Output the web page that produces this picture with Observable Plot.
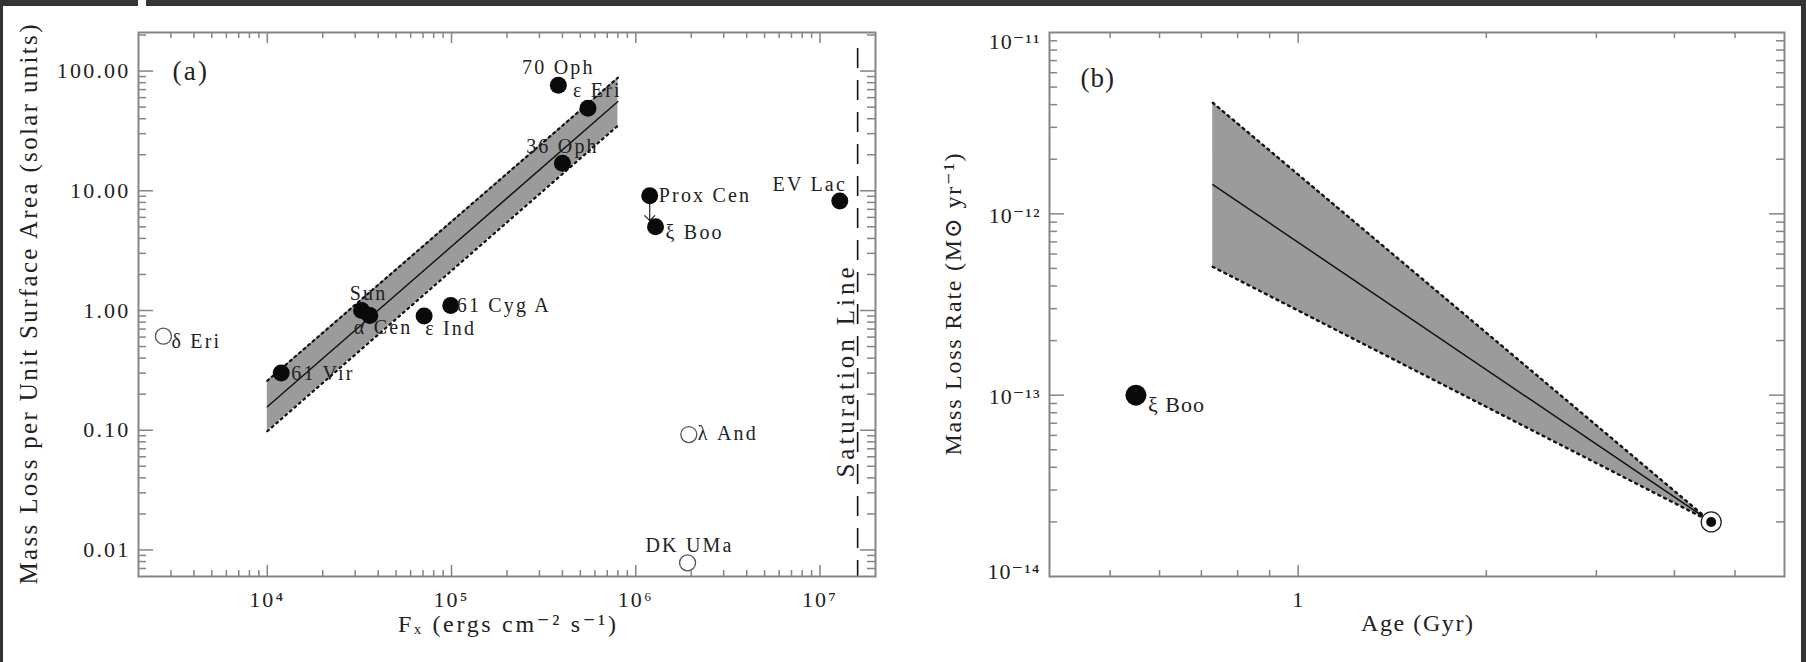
<!DOCTYPE html>
<html><head><meta charset="utf-8">
<script src="https://cdn.jsdelivr.net/npm/d3@7"></script>
<script src="https://cdn.jsdelivr.net/npm/@observablehq/plot@0.6"></script>
<style>
html,body{margin:0;padding:0;background:#fff;}
#page{position:relative;width:1806px;height:662px;overflow:hidden;background:#fff;}
.bar{position:absolute;background:#343434;}
#pa,#pb{position:absolute;top:0;}
#pa{left:0;} #pb{left:900px;}
</style></head><body>
<div id="page">
  <div id="pa"></div><div id="pb"></div>
  <div class="bar" style="left:0;top:0;width:138px;height:6px"></div>
  <div class="bar" style="left:146px;top:0;width:1660px;height:6px"></div>
  <div class="bar" style="left:0;top:0;width:3px;height:662px"></div>
  <div class="bar" style="right:0;top:0;width:5px;height:662px"></div>
</div>
<script>
// ---------- Panel (a) data ----------
const starNames  = ["70 Oph","ε Eri","36 Oph","Prox Cen","ξ Boo","EV Lac","61 Cyg A","ε Ind","Sun","α Cen","61 Vir","δ Eri","λ And","DK UMa"];
const starFx     = [3.8e5, 5.5e5, 4.0e5, 1.19e6, 1.28e6, 1.28e7, 9.9e4, 7.1e4, 3.25e4, 3.6e4, 1.19e4, 2.73e3, 1.94e6, 1.91e6];
const starMdot   = [76, 49, 17, 9.1, 5.0, 8.2, 1.1, 0.90, 1.0, 0.91, 0.30, 0.61, 0.092, 0.0078];
const starFilled = [true, true, true, true, true, true, true, true, true, true, true, false, false, false];
const upperLimitStars = ["Prox Cen"];
const fitFx   = [1e4, 8e5];
const fitMid  = [0.157, 55.6];
const fitLow  = [0.098, 35];
const fitHigh = [0.259, 88];
const saturationFx = 1.6e7;
const aXDomain = [2000, 2e7];
const aYDomain = [0.006, 210];
const aXLabelValues = [1e4, 1e5, 1e6, 1e7];
const aXLabels = ["10⁴", "10⁵", "10⁶", "10⁷"];
const aYLabelValues = [0.01, 0.1, 1, 10, 100];
const aYLabels = ["0.01", "0.10", "1.00", "10.00", "100.00"];
const aTitleY = "Mass Loss per Unit Surface Area (solar units)";
const aTitleX = "Fₓ (ergs cm⁻² s⁻¹)";
const satLabel = "Saturation Line";

// ---------- Panel (b) data ----------
const modelAge  = [0.73, 4.58];
const modelMid  = [1.45e-12, 2.0e-14];
const modelHigh = [4.1e-12, 2.0e-14];
const modelLow  = [5.1e-13, 2.0e-14];
const sunAge = [4.58], sunRate = [2.0e-14];
const xiBooAge = [0.55], xiBooRate = [1.0e-13];
const bXDomain = [0.4, 6];
const bYDomain = [1e-14, 1e-11];
const bXLabelValues = [1];
const bXLabels = ["1"];
const bYLabelValues = [1e-14, 1e-13, 1e-12, 1e-11];
const bYLabels = ["10⁻¹⁴", "10⁻¹³", "10⁻¹²", "10⁻¹¹"];
const bTitleY = "Mass Loss Rate (M⊙ yr⁻¹)";
const bTitleX = "Age (Gyr)";

// ---------- helpers ----------
const FONT = "'Liberation Serif','DejaVu Serif',serif";
const INK = "#222";
const AXC = "#858585";
const isPow10 = v => Math.abs(Math.log10(v) - Math.round(Math.log10(v))) < 1e-9;
function innerTicks(dom) {
  return d3.scaleLog().domain(dom).ticks().filter(v => v > dom[0] * 1.0001 && v < dom[1] * 0.9999);
}
function frameTicks(xDom, yDom, pw, ph) {
  const xt = innerTicks(xDom), yt = innerTicks(yDom);
  const xMaj = xt.filter(isPow10), xMin = xt.filter(v => !isPow10(v));
  const yMaj = yt.filter(isPow10), yMin = yt.filter(v => !isPow10(v));
  const s = {stroke: AXC, strokeWidth: 1.5};
  return [
    Plot.tickX(xMaj, {x: d => d, insetTop: ph - 11, ...s}),
    Plot.tickX(xMaj, {x: d => d, insetBottom: ph - 11, ...s}),
    Plot.tickX(xMin, {x: d => d, insetTop: ph - 6, ...s}),
    Plot.tickX(xMin, {x: d => d, insetBottom: ph - 6, ...s}),
    Plot.tickY(yMaj, {y: d => d, insetRight: pw - 15, ...s}),
    Plot.tickY(yMaj, {y: d => d, insetLeft: pw - 15, ...s}),
    Plot.tickY(yMin, {y: d => d, insetRight: pw - 8, ...s}),
    Plot.tickY(yMin, {y: d => d, insetLeft: pw - 8, ...s})
  ];
}
// stretch a centred text (found by its content) to a given length, keeping it centred
function fitText(svg, str, len) {
  svg.querySelectorAll("text").forEach(t => {
    if (t.textContent !== str) return;
    const x0 = t.hasAttribute("x") ? +t.getAttribute("x") : 0;
    t.setAttribute("text-anchor", "start");
    t.setAttribute("x", x0 - len / 2);
    t.setAttribute("textLength", len);
    t.setAttribute("lengthAdjust", "spacing");
    t.style.letterSpacing = "0px";
  });
}

// ---------- Panel (a) ----------
const stars = starNames.map((name, i) => ({name, fx: starFx[i], mdot: starMdot[i], filled: starFilled[i]}));
const fitRows = fitFx.map((fx, i) => ({fx, mid: fitMid[i], low: fitLow[i], high: fitHigh[i]}));
const labelOffsets = {
  "70 Oph":   [0, -18, "middle"],
  "ε Eri":    [-15, -18, "start"],
  "36 Oph":   [0, -17, "middle"],
  "Prox Cen": [9, 0, "start"],
  "ξ Boo":    [10, 6, "start"],
  "EV Lac":   [-30, -17, "middle"],
  "61 Cyg A": [6, 0, "start"],
  "ε Ind":    [1, 13, "start"],
  "Sun":      [7, -17, "middle"],
  "α Cen":    [-16, 12, "start"],
  "61 Vir":   [10, 0, "start"],
  "δ Eri":    [8, 5, "start"],
  "λ And":    [9, -1, "start"],
  "DK UMa":   [2, -17, "middle"]
};
const aW = 900, H = 662, aML = 138, aMR = 25, aMT = 32, aMB = 86;
const aPW = aW - aML - aMR, aPH = H - aMT - aMB;
const aXMap = new Map(aXLabelValues.map((v, i) => [v, aXLabels[i]]));
const aYMap = new Map(aYLabelValues.map((v, i) => [v, aYLabels[i]]));

const plotA = Plot.plot({
  width: aW, height: H,
  marginLeft: aML, marginRight: aMR, marginTop: aMT, marginBottom: aMB,
  x: {type: "log", domain: aXDomain, axis: null},
  y: {type: "log", domain: aYDomain, axis: null},
  style: {fontFamily: FONT, color: "#2a2a2a", background: "transparent", overflow: "visible", letterSpacing: "2.2px"},
  marks: [
    Plot.areaY(fitRows, {x: "fx", y1: "low", y2: "high", fill: "#9b9b9b"}),
    Plot.line(fitRows, {x: "fx", y: "high", stroke: "#111", strokeWidth: 2.2, strokeDasharray: "2,4"}),
    Plot.line(fitRows, {x: "fx", y: "low", stroke: "#111", strokeWidth: 2.2, strokeDasharray: "2,4"}),
    Plot.line(fitRows, {x: "fx", y: "mid", stroke: "#111", strokeWidth: 1.4}),
    Plot.ruleX([saturationFx], {x: d => d, insetTop: 16, stroke: "#111", strokeWidth: 1.6, strokeDasharray: "20,12"}),
    Plot.text([{fx: saturationFx, label: satLabel}], {x: "fx", text: "label", frameAnchor: "middle", dx: -12, dy: 68, rotate: -90, fontSize: 25, fill: INK}),
    Plot.vector(stars.filter(d => upperLimitStars.includes(d.name)), {x: "fx", y: "mdot", length: 25, rotate: 180, anchor: "start", shape: "arrow", stroke: INK, strokeWidth: 1.2}),
    Plot.dot(stars.filter(d => d.filled), {x: "fx", y: "mdot", r: 8.5, fill: "#0a0a0a"}),
    Plot.dot(stars.filter(d => !d.filled), {x: "fx", y: "mdot", r: 8, fill: "white", stroke: "#555", strokeWidth: 1.3}),
    ...stars.map(d => {
      const [dx, dy, anchor] = labelOffsets[d.name];
      return Plot.text([d], {x: "fx", y: "mdot", text: "name", dx, dy, textAnchor: anchor, fontSize: 20, fill: INK});
    }),
    ...frameTicks(aXDomain, aYDomain, aPW, aPH),
    Plot.frame({stroke: AXC, strokeWidth: 2}),
    Plot.axisX(aXLabelValues, {tickSize: 0, tickPadding: 15, tickFormat: d => aXMap.get(d), fontSize: 22, label: null, fill: INK}),
    Plot.axisY(aYLabelValues, {tickSize: 0, tickPadding: 8, tickFormat: d => aYMap.get(d), fontSize: 22, label: null, fill: INK}),
    Plot.text(["(a)"], {text: d => d, frameAnchor: "top-left", dx: 34, dy: 28, fontSize: 27, fill: INK}),
    Plot.text([aTitleY], {text: d => d, frameAnchor: "left", dx: -110, rotate: -90, fontSize: 25, fill: INK}),
    Plot.text([aTitleX], {text: d => d, frameAnchor: "bottom", dy: 55, fontSize: 24, fill: INK})
  ]
});
document.getElementById("pa").appendChild(plotA);
fitText(plotA, aTitleY, 560);
fitText(plotA, aTitleX, 218);
fitText(plotA, satLabel, 210);

// ---------- Panel (b) ----------
const modelRows = modelAge.map((age, i) => ({age, mid: modelMid[i], low: modelLow[i], high: modelHigh[i]}));
const sunRows = sunAge.map((age, i) => ({age, rate: sunRate[i]}));
const xiRows = xiBooAge.map((age, i) => ({age, rate: xiBooRate[i], name: "ξ Boo"}));
const bW = 906, bML = 149, bMR = 22, bMT = 32, bMB = 86;
const bPW = bW - bML - bMR, bPH = H - bMT - bMB;
const bXMap = new Map(bXLabelValues.map((v, i) => [v, bXLabels[i]]));
const bYMap = new Map(bYLabelValues.map((v, i) => [v, bYLabels[i]]));
const yAxisB = (vals, dy) => Plot.axisY(vals, {tickSize: 0, tickPadding: 9, tickFormat: d => bYMap.get(d), fontSize: 22, label: null, fill: INK, dy});

const plotB = Plot.plot({
  width: bW, height: H,
  marginLeft: bML, marginRight: bMR, marginTop: bMT, marginBottom: bMB,
  x: {type: "log", domain: bXDomain, axis: null},
  y: {type: "log", domain: bYDomain, axis: null},
  style: {fontFamily: FONT, color: "#2a2a2a", background: "transparent", overflow: "visible", letterSpacing: "1px"},
  marks: [
    Plot.areaY(modelRows, {x: "age", y1: "low", y2: "high", fill: "#9b9b9b"}),
    Plot.line(modelRows, {x: "age", y: "high", stroke: "#111", strokeWidth: 2.4, strokeDasharray: "2,4.5"}),
    Plot.line(modelRows, {x: "age", y: "low", stroke: "#111", strokeWidth: 2.4, strokeDasharray: "2,4.5"}),
    Plot.line(modelRows, {x: "age", y: "mid", stroke: "#111", strokeWidth: 1.5}),
    Plot.dot(sunRows, {x: "age", y: "rate", r: 10, fill: "white", stroke: "#222", strokeWidth: 1.3}),
    Plot.dot(sunRows, {x: "age", y: "rate", r: 5, fill: "#0a0a0a"}),
    Plot.dot(xiRows, {x: "age", y: "rate", r: 10.5, fill: "#0a0a0a"}),
    Plot.text(xiRows, {x: "age", y: "rate", text: "name", dx: 12, dy: 10, textAnchor: "start", fontSize: 22, fill: INK}),
    ...frameTicks(bXDomain, bYDomain, bPW, bPH),
    Plot.frame({stroke: AXC, strokeWidth: 2}),
    Plot.axisX(bXLabelValues, {tickSize: 0, tickPadding: 15, tickFormat: d => bXMap.get(d), fontSize: 22, label: null, fill: INK}),
    yAxisB([1e-11], 9),
    yAxisB([1e-12, 1e-13], 2),
    yAxisB([1e-14], -5),
    Plot.text(["(b)"], {text: d => d, frameAnchor: "top-left", dx: 31, dy: 35, fontSize: 27, fill: INK}),
    Plot.text([bTitleY], {text: d => d, frameAnchor: "left", dx: -96, rotate: -90, fontSize: 24, fill: INK}),
    Plot.text([bTitleX], {text: d => d, frameAnchor: "bottom", dy: 54, fontSize: 24, fill: INK})
  ]
});
document.getElementById("pb").appendChild(plotB);
fitText(plotB, bTitleY, 302);
fitText(plotB, bTitleX, 112);
</script>
</body></html>
